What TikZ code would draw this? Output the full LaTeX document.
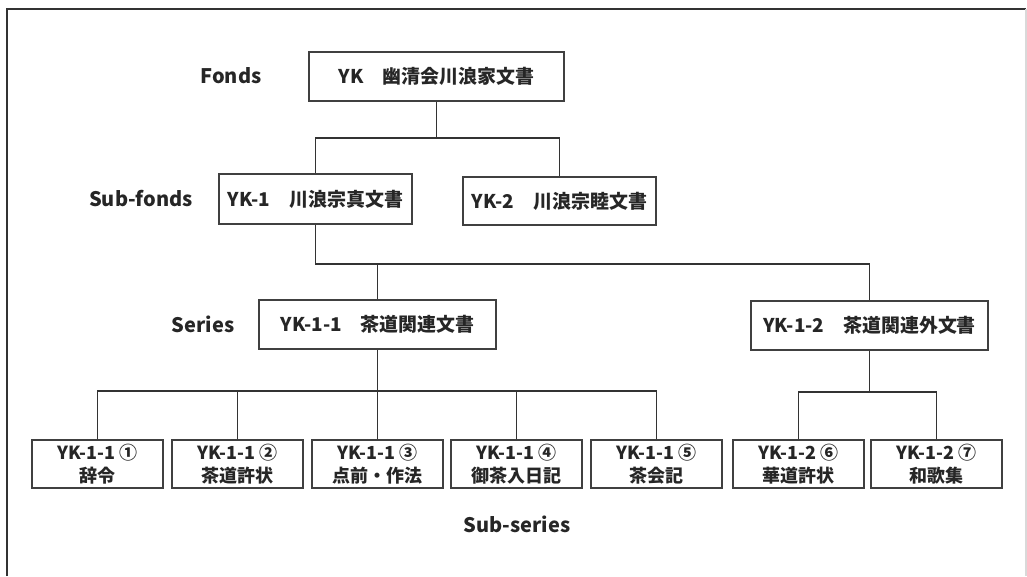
\documentclass[tikz,border=0pt]{standalone}
\usepackage{fontspec}
\setmainfont{Noto Sans CJK JP}
\begin{document}
\begin{tikzpicture}[x=0.75pt,y=-0.75pt,
  box/.style={draw=black!75,line width=1.1pt,inner sep=0pt,minimum height=36.75pt,font=\fontsize{14.2}{17}\selectfont\bfseries,text=black!85},
  subbox/.style={box,minimum width=98.25pt,minimum height=36pt,align=center,font=\fontsize{13.5}{17.5}\selectfont\bfseries},
  lbl/.style={font=\fontsize{15}{18}\selectfont\bfseries,text=black!85,inner sep=0pt},
  conn/.style={draw=black!80,line width=0.8pt}]
\useasboundingbox (0,0) rectangle (1027,576);
% frame
\draw[black!80,line width=1.2pt] (7,576) -- (7,9) -- (1026,9);
\draw[black!15,line width=1pt] (1026,9) -- (1026,576);
% labels
\node[lbl] (lf) at (231,76) {Fonds};
\node[lbl] (lsf) at (141,199) {Sub-fonds};
\node[lbl] (ls) at (203,324) {Series};
\node[lbl] (lss) at (517,524) {Sub-series};
% boxes
\node[box,minimum width=191.25pt] (fonds) at (436.5,76.5) {YK　幽清会川浪家文書};
\node[box,minimum width=144.75pt,minimum height=37.5pt] (yk1) at (315.5,199) {YK-1　川浪宗真文書};
\node[box,minimum width=144.75pt,minimum height=36pt] (yk2) at (559.5,201) {YK-2　川浪宗睦文書};
\node[box,minimum width=177.75pt] (s1) at (377.5,324.5) {YK-1-1　茶道関連文書};
\node[box,minimum width=177.75pt] (s2) at (869.5,325.5) {YK-1-2　茶道関連外文書};
\node[subbox] (b1) at (97.5,464) {YK-1-1 ①\\辞令};
\node[subbox] (b2) at (237.5,464) {YK-1-1 ②\\茶道許状};
\node[subbox] (b3) at (377.5,464) {YK-1-1 ③\\点前・作法};
\node[subbox] (b4) at (516.5,464) {YK-1-1 ④\\御茶入日記};
\node[subbox] (b5) at (656.5,464) {YK-1-1 ⑤\\茶会記};
\node[subbox] (b6) at (798.5,464) {YK-1-2 ⑥\\華道許状};
\node[subbox] (b7) at (936.5,464) {YK-1-2 ⑦\\和歌集};
% junction levels
\coordinate (j1) at (0,138);
\coordinate (j2) at (0,264);
\coordinate (j3) at (0,391);
\coordinate (j4) at (0,392);
% connectors
\draw[conn] (fonds.south) -- (fonds.south |- j1);
\draw[conn] (yk1.north) |- (yk2.north |- j1) -- (yk2.north);
\draw[conn] (yk1.south) |- (s2.north |- j2) -- (s2.north);
\draw[conn] (s1.north) -- (s1.north |- j2);
\draw[conn] (s1.south) -- (s1.south |- j3);
\draw[conn] (b1.north) |- (b5.north |- j3) -- (b5.north);
\draw[conn] (b2.north) -- (b2.north |- j3);
\draw[conn] (b3.north) -- (b3.north |- j3);
\draw[conn] (b4.north) -- (b4.north |- j3);
\draw[conn] (s2.south) -- (s2.south |- j4);
\draw[conn] (b6.north) |- (b7.north |- j4) -- (b7.north);
\end{tikzpicture}
\end{document}
